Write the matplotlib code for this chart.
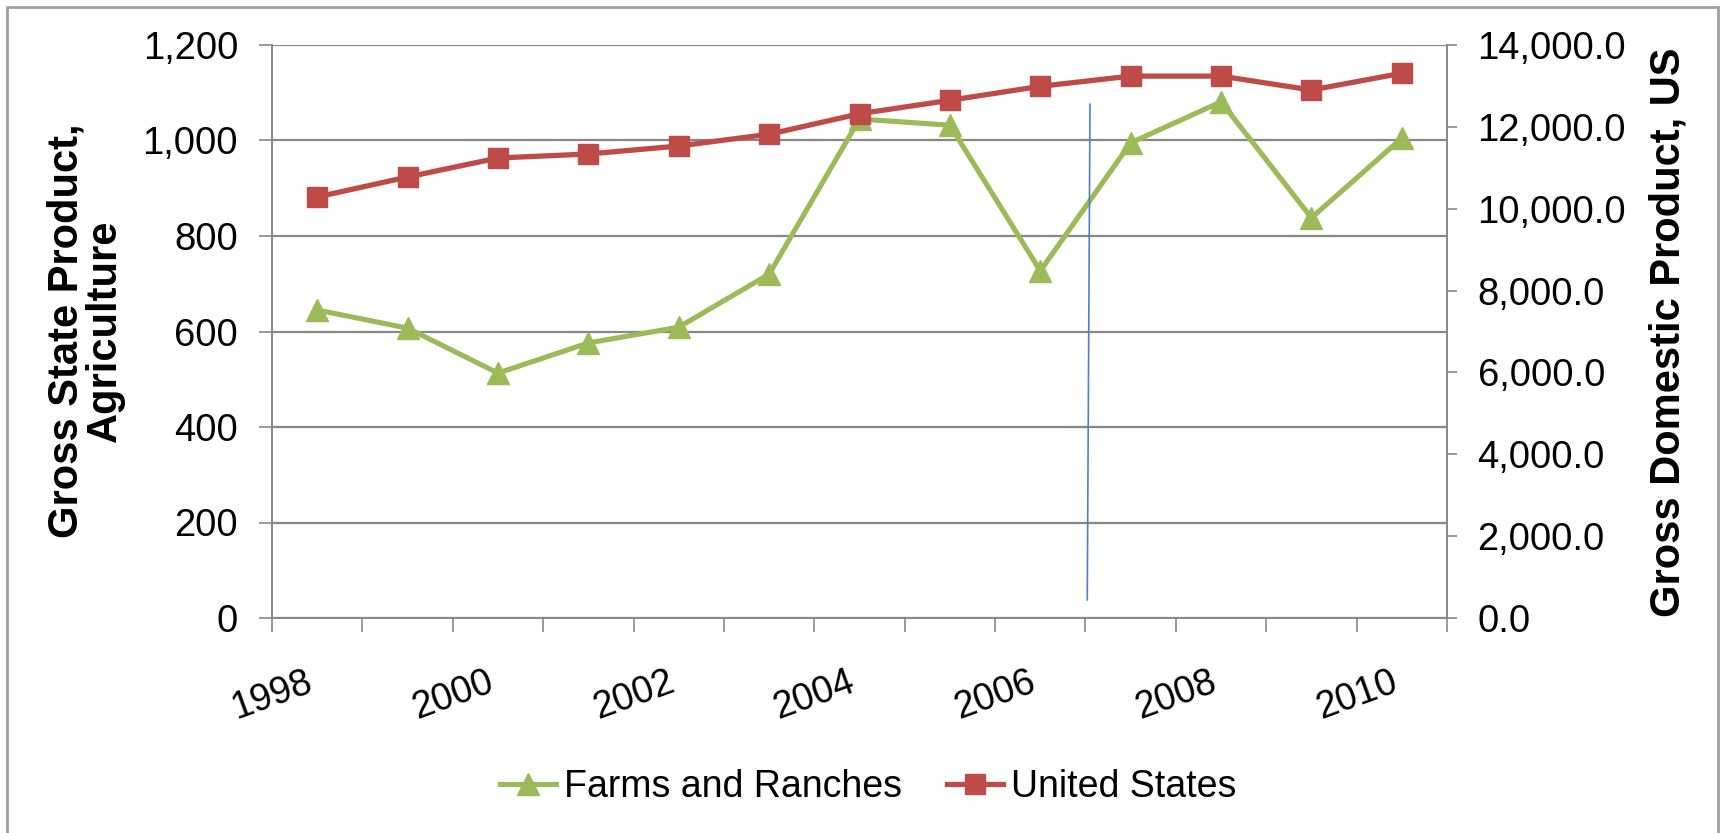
import numpy as np
import matplotlib
matplotlib.use("Agg")
import matplotlib.pyplot as plt
from matplotlib.patches import Rectangle
from matplotlib.ticker import FuncFormatter

plt.rcParams['font.family'] = ['Liberation Sans', 'DejaVu Sans']

# data
years = [1998, 1999, 2000, 2001, 2002, 2003, 2004, 2005, 2006, 2007, 2008, 2009, 2010]
farms = [645, 607, 513, 576, 609, 720, 1045, 1032, 727, 995, 1081, 838, 1005]
us_gdp = [10286, 10775, 11239, 11337, 11532, 11820, 12320, 12650, 12990, 13240, 13240, 12900, 13310]

left_ticks = [0, 200, 400, 600, 800, 1000, 1200]
right_ticks = [0, 2000, 4000, 6000, 8000, 10000, 12000, 14000]

# hand-drawn blue marker line (category units, left-axis units)
marker_x = [8.55, 8.52]
marker_y = [1076, 38]

grey = '#878787'
green = '#9BBB59'
red = '#BE4B48'

W, H = 1723, 833
fig = plt.figure(figsize=(W / 100, H / 100), dpi=100)
ax = fig.add_axes([272 / W, (H - 618) / H, (1447 - 272) / W, (618 - 45) / H])
ax2 = ax.twinx()

x = np.arange(len(years))

ax.plot(x, farms, color=green, lw=3.7, marker='^', ms=16, mec=green, mfc=green,
        label='Farms and Ranches', zorder=3)
ax2.plot(x, us_gdp, color=red, lw=3.8, marker='s', ms=15, mec=red, mfc=red,
         label='United States', zorder=3)
ax2.plot(marker_x, [v / 1200 * 14000 for v in marker_y], color='#4F81BD', lw=1.2, zorder=4)

ax.set_xlim(-0.5, len(years) - 0.5)
ax.set_ylim(0, 1200)
ax2.set_ylim(0, 14000)

# category boundaries as ticks, label every other year
bounds = np.arange(len(years) + 1) - 0.5
xlabels = [str(years[i]) if (i % 2 == 0 and i < len(years)) else '' for i in range(len(bounds))]
ax.set_xticks(bounds)
ax.set_xticklabels(xlabels, rotation=20, ha='center', fontsize=27)

ax.set_yticks(left_ticks)
ax.yaxis.set_major_formatter(FuncFormatter(lambda v, p: f'{v:,.0f}'))
ax2.set_yticks(right_ticks)
ax2.yaxis.set_major_formatter(FuncFormatter(lambda v, p: f'{v:,.1f}'))

ax.grid(axis='y', color=grey, lw=1.6)
ax.set_axisbelow(True)

for a in (ax, ax2):
    for s in a.spines.values():
        s.set_visible(False)
ax.spines['left'].set_visible(True)
ax.spines['bottom'].set_visible(True)
ax2.spines['right'].set_visible(True)
for s in (ax.spines['left'], ax.spines['bottom'], ax2.spines['right']):
    s.set_color(grey)
    s.set_linewidth(1.4)

ax.tick_params(axis='y', length=9.4, width=1.2, color=grey, pad=15, labelsize=27.5)
ax.tick_params(axis='x', length=10, width=1.2, color=grey, pad=23)
ax2.tick_params(axis='y', length=7, width=1.2, color=grey, pad=15, labelsize=27.5)

fig.text(86 / W, (H - 331) / H, 'Gross State Product,\nAgriculture', rotation=90,
         ha='center', va='center', fontsize=30, fontweight='bold', linespacing=0.95)
fig.text(1668 / W, (H - 332) / H, 'Gross Domestic Product, US', rotation=90,
         ha='center', va='center', fontsize=30, fontweight='bold')

h1, l1 = ax.get_legend_handles_labels()
h2, l2 = ax2.get_legend_handles_labels()
fig.legend(h1 + h2[:1], l1 + l2[:1], loc='center', bbox_to_anchor=(868 / W, (H - 787) / H),
           ncol=2, frameon=False, fontsize=27, handlelength=1.5, handletextpad=0.2,
           columnspacing=1.2)

# outer chart border
fig.patches.append(Rectangle((7 / W, -0.05), (1718 - 7) / W, (H - 7) / H + 0.05,
                             transform=fig.transFigure, fill=False, ec='#a0a0a0', lw=2))

fig.savefig('out.png', dpi=100)
